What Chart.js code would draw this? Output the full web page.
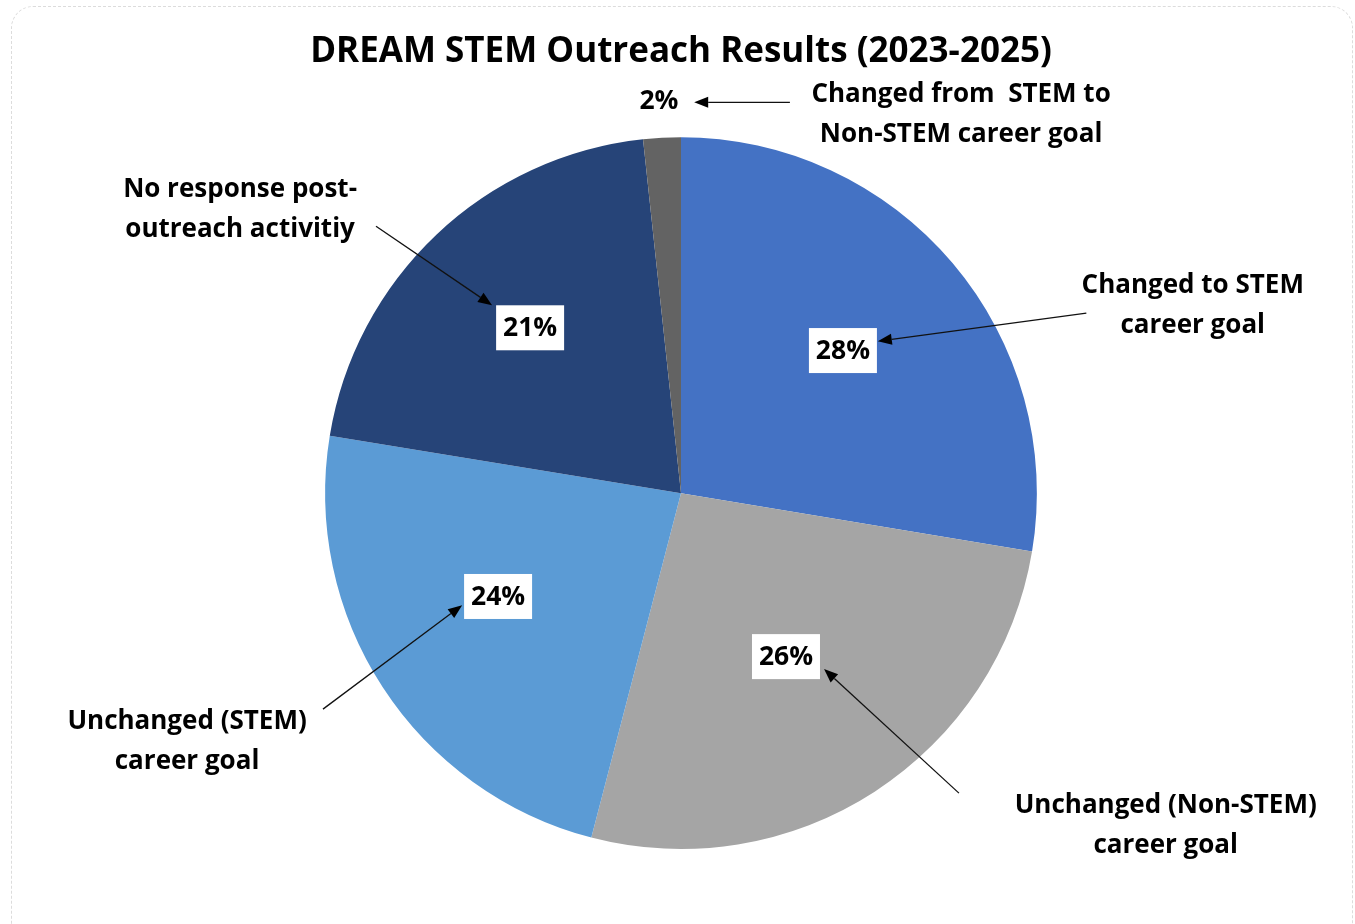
<!DOCTYPE html>
<html lang="en">
    <head>
        <meta charset="utf-8" />
        <script src="https://cdn.jsdelivr.net/npm/chart.js@4/dist/chart.umd.min.js"></script>
        <title>DREAM STEM Outreach Results</title>
        <style>
            body { margin: 0; background: #fff; }
            #marco { position: absolute; left: 11px; top: 6px; width: 1340px; height: 940px; border: 1px dashed #dcdcdc; border-radius: 22px; }
            #lienzo { position: absolute; left: 0; top: 0; }
        </style>
    </head>
    <body>
        <div id="marco"></div>
        <canvas id="lienzo" width="1355" height="924"></canvas>
        <script>
            // datos (porcentaje de estudiantes)
            const categorias = [
                "Changed to STEM career goal",
                "Unchanged (Non-STEM) career goal",
                "Unchanged (STEM) career goal",
                "No response post-outreach activitiy",
                "Changed from  STEM to Non-STEM career goal"
            ];
            const valores = [27.6, 26.4, 23.5, 20.7, 1.7];
            const colores = ["#4472C4", "#A5A5A5", "#5B9BD5", "#264478", "#636363"];

            // texto de las etiquetas externas (dos lineas cada una)
            const textos = [
                ["Changed to STEM", "career goal"],
                ["Unchanged (Non-STEM)", "career goal"],
                ["Unchanged (STEM)", "career goal"],
                ["No response post-", "outreach activitiy"],
                ["Changed from  STEM to", "Non-STEM career goal"]
            ];

            // posiciones relativas al centro, en unidades de radio
            const posPct = [[0.455, -0.402], [0.295, 0.458], [-0.514, 0.289], [-0.424, -0.466], [-0.062, -1.104]];
            const posTxt = [[1.438, -0.528], [1.362, 0.933], [-1.388, 0.697], [-1.239, -0.798], [0.787, -1.065]];
            const flechaDesde = [[1.139, -0.506], [0.781, 0.843], [-1.006, 0.607], [-0.857, -0.750], [0.306, -1.098]];
            const flechaHasta = [[0.553, -0.427], [0.402, 0.494], [-0.615, 0.315], [-0.531, -0.528], [0.037, -1.098]];

            const fuente = "'Open Sans'";

            function flecha(ctx, x1, y1, x2, y2) {
                const ang = Math.atan2(y2 - y1, x2 - x1);
                const largo = 14, ancho = 5.5;
                const bx = x2 - largo * Math.cos(ang), by = y2 - largo * Math.sin(ang);
                ctx.beginPath();
                ctx.moveTo(x1, y1);
                ctx.lineTo(bx, by);
                ctx.lineWidth = 1.3;
                ctx.strokeStyle = "#111";
                ctx.stroke();
                ctx.beginPath();
                ctx.moveTo(x2, y2);
                ctx.lineTo(bx + ancho * Math.sin(ang), by - ancho * Math.cos(ang));
                ctx.lineTo(bx - ancho * Math.sin(ang), by + ancho * Math.cos(ang));
                ctx.closePath();
                ctx.fillStyle = "#000";
                ctx.fill();
            }

            const etiquetas = {
                id: "etiquetas",
                afterDraw(chart) {
                    const ctx = chart.ctx;
                    const arcos = chart.getDatasetMeta(0).data;
                    const total = valores.reduce((a, b) => a + b, 0);
                    ctx.save();
                    arcos.forEach((arco, i) => {
                        const cx = arco.x, cy = arco.y, r = arco.outerRadius;
                        const pct = Math.round(valores[i] / total * 100) + "%";
                        // flecha
                        flecha(ctx, cx + flechaDesde[i][0] * r, cy + flechaDesde[i][1] * r,
                            cx + flechaHasta[i][0] * r, cy + flechaHasta[i][1] * r);
                        // caja con porcentaje
                        const px = cx + posPct[i][0] * r, py = cy + posPct[i][1] * r;
                        ctx.font = "bold 26.5px " + fuente;
                        ctx.textAlign = "center";
                        ctx.textBaseline = "middle";
                        if (i < 4) {
                            ctx.fillStyle = "#fff";
                            ctx.fillRect(px - 34, py - 22, 68, 45);
                        }
                        ctx.fillStyle = "#000";
                        ctx.fillText(pct, px, py + 1);
                        // texto de la categoria
                        const tx = cx + posTxt[i][0] * r, ty = cy + posTxt[i][1] * r;
                        ctx.font = "bold 26px " + fuente;
                        ctx.fillText(textos[i][0], tx, ty - 20);
                        ctx.fillText(textos[i][1], tx, ty + 20);
                    });
                    ctx.restore();
                }
            };

            new Chart(document.getElementById("lienzo").getContext("2d"), {
                type: "pie",
                data: {
                    labels: categorias,
                    datasets: [{ data: valores, backgroundColor: colores, borderWidth: 0 }]
                },
                options: {
                    responsive: false,
                    animation: false,
                    layout: { padding: { top: 14, left: 7, right: 0, bottom: 75 } },
                    plugins: {
                        legend: { display: false },
                        tooltip: { enabled: false },
                        title: {
                            display: true,
                            text: "DREAM STEM Outreach Results (2023-2025)",
                            color: "#000",
                            font: { family: "Open Sans", size: 35, weight: "bold", lineHeight: 1.15 },
                            padding: { top: 18, bottom: 65 }
                        }
                    }
                },
                plugins: [etiquetas]
            });
        </script>
    </body>
</html>
